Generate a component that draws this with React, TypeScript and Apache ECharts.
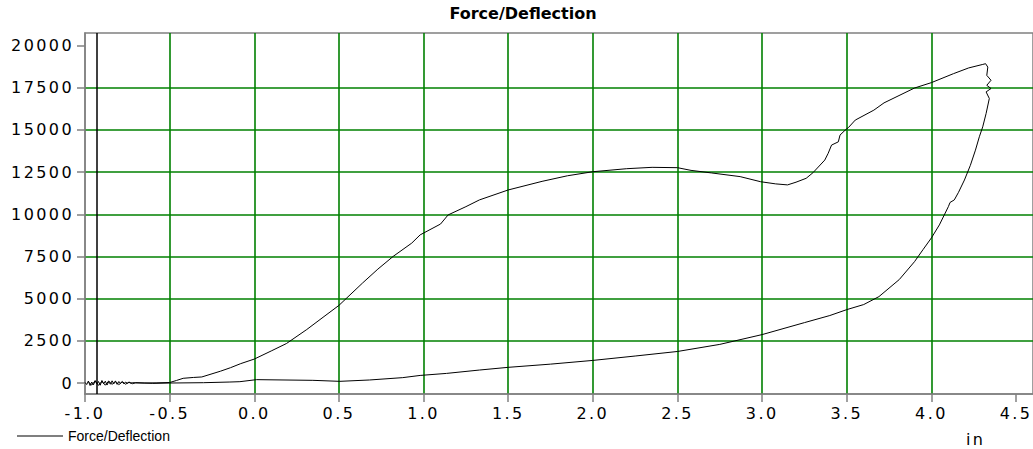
import React, { useEffect, useRef } from "react";
import * as echarts from "echarts";

const titleText = "Force/Deflection";
const seriesName = "Force/Deflection";
const xUnit = "in";
const markerX = -0.925;

const loadX = [
  -1.0, -0.99, -0.98, -0.97, -0.96, -0.95, -0.94, -0.93, -0.92, -0.91, -0.9, -0.89, -0.88, -0.87,
  -0.86, -0.85, -0.84, -0.83, -0.82, -0.81, -0.8, -0.79, -0.78, -0.77, -0.76, -0.75, -0.74, -0.73,
  -0.72, -0.7, -0.65, -0.58, -0.5, -0.46, -0.42, -0.36, -0.31, -0.2, -0.14, -0.08, 0.0, 0.1, 0.19,
  0.31, 0.4, 0.5, 0.64, 0.73, 0.82, 0.93, 0.98, 1.1, 1.145, 1.25, 1.33, 1.5, 1.7, 1.85, 2.0, 2.2,
  2.35, 2.5, 2.58, 2.7, 2.87, 2.99, 3.08, 3.15, 3.2, 3.26, 3.3, 3.37, 3.39, 3.41, 3.45, 3.46, 3.49,
  3.51, 3.55, 3.66, 3.72, 3.9, 4.0, 4.13, 4.22, 4.3, 4.32,
];
const loadY = [
  40, -90, 120, -150, 60, -110, 140, -60, 90, -130, 150, -40, 110, -120,
  80, -70, 130, -50, 100, -80, 90, -30, 70, -50, 60, -20, 40, -10,
  20, 10, 0, 10, 30, 150, 280, 330, 360, 700, 910, 1150, 1420, 1900, 2340,
  3170, 3850, 4600, 5930, 6750, 7500, 8290, 8780, 9420, 9960, 10450, 10850, 11440, 11950, 12280, 12520, 12700,
  12780, 12760, 12600, 12450, 12230, 11930, 11800, 11740, 11900, 12130, 12460, 13210, 13610, 14100, 14290, 14690, 14980,
  15140, 15580, 16170, 16600, 17480, 17800, 18330, 18670, 18870, 18920,
];

const unloadX = [
  4.333, 4.327, 4.352, 4.327, 4.352, 4.323, 4.342, 4.323, 4.303, 4.283, 4.26, 4.23, 4.195, 4.16,
  4.135, 4.11, 4.1, 4.047, 4.0, 3.95, 3.9, 3.81, 3.69, 3.6, 3.5, 3.4, 3.25, 3.0, 2.75, 2.5, 2.25,
  2.0, 1.75, 1.5, 1.33, 1.135, 0.98, 0.877, 0.68, 0.505, 0.346, 0.013, -0.085, -0.144, -0.3, -0.5,
  -0.6, -0.7, -0.72, -0.74, -0.76, -0.78, -0.8, -0.82, -0.84, -0.86, -0.88, -0.9, -0.92, -0.94,
  -0.96, -0.98,
];
const unloadY = [
  18720, 18230, 17940, 17640, 17450, 17250, 16860, 15970, 15180, 14590, 13800, 12900, 12030, 11300,
  10850, 10700, 10450, 9370, 8600, 7900, 7190, 6130, 5120, 4650, 4350, 4000, 3580, 2870, 2290, 1870, 1600,
  1340, 1120, 930, 770, 570, 450, 320, 180, 100, 160, 200, 80, 60, 20, 0,
  -20, 20, -40, 60, -70, 90, -100, 110, -80, 120, -130, 100, -140, 130,
  -120, 60,
];

const xTickValues = [-1.0, -0.5, 0.0, 0.5, 1.0, 1.5, 2.0, 2.5, 3.0, 3.5, 4.0, 4.5];
const xTickLabels = ["-1.0", "-0.5", "0.0", "0.5", "1.0", "1.5", "2.0", "2.5", "3.0", "3.5", "4.0", "4.5"];
const yTickValues = [0, 2500, 5000, 7500, 10000, 12500, 15000, 17500, 20000];
const yTickLabels = ["0", "2500", "5000", "7500", "10000", "12500", "15000", "17500", "20000"];

const labelFor = (values: number[], labels: string[]) => (v: number) => {
  const i = values.findIndex((t) => Math.abs(t - v) < 1e-6);
  return i >= 0 ? labels[i] : "";
};

export default function App() {
  const ref = useRef<HTMLDivElement>(null);
  useEffect(() => {
    if (!ref.current) return;
    const chart = echarts.init(ref.current, null, { renderer: "svg" });
    const data: number[][] = [];
    loadX.forEach((x, i) => data.push([x, loadY[i]]));
    unloadX.forEach((x, i) => data.push([x, unloadY[i]]));
    const gray = "#808080";
    const green = "#008000";
    const axisFont = { fontFamily: "DejaVu Sans", fontSize: 16, color: "#000" };
    chart.setOption({
      animation: false,
      backgroundColor: "#fff",
      title: {
        text: titleText,
        left: 523,
        textAlign: "center",
        top: 5,
        padding: 0,
        textStyle: { fontFamily: "DejaVu Sans", fontSize: 16, fontWeight: "bold", color: "#000" },
      },
      legend: {
        left: 17,
        top: 429,
        padding: 0,
        icon: "rect",
        itemWidth: 46,
        itemHeight: 1,
        data: [seriesName],
        itemStyle: { color: "#000", borderWidth: 0 },
        textStyle: { fontFamily: "Liberation Sans", fontSize: 14, color: "#000" },
      },
      grid: {
        left: 85,
        top: 33,
        right: 0,
        bottom: 55,
        show: true,
        borderColor: gray,
        borderWidth: 1.5,
        backgroundColor: "transparent",
      },
      xAxis: {
        type: "value",
        min: -1,
        max: 4.6,
        interval: 0.5,
        axisLine: { show: true, onZero: false, lineStyle: { color: gray, width: 1.5 } },
        axisTick: { show: true, length: 8, customValues: xTickValues, lineStyle: { color: gray, width: 1.5 } },
        axisLabel: {
          ...axisFont,
          margin: 11,
          customValues: xTickValues,
          formatter: labelFor(xTickValues, xTickLabels),
        },
        splitLine: { show: true, showMinLine: false, showMaxLine: false, lineStyle: { color: green, width: 1.6 } },
      },
      yAxis: {
        type: "value",
        min: -650,
        max: 20740,
        minInterval: 2500,
        maxInterval: 2500,
        axisLine: { show: true, onZero: false, lineStyle: { color: gray, width: 1.5 } },
        axisTick: { show: true, length: 8, customValues: yTickValues, lineStyle: { color: gray, width: 1.5 } },
        axisLabel: {
          ...axisFont,
          margin: 11,
          customValues: yTickValues,
          formatter: labelFor(yTickValues, yTickLabels),
        },
        splitLine: { show: true, showMinLine: false, showMaxLine: false, lineStyle: { color: green, width: 1.6 } },
      },
      graphic: [
        {
          type: "text",
          left: 966,
          top: 431,
          style: { text: xUnit, fontFamily: "DejaVu Sans", fontSize: 16, fill: "#000" },
        },
      ],
      series: [
        {
          name: seriesName,
          type: "line",
          data,
          symbol: "none",
          showSymbol: false,
          smooth: false,
          lineStyle: { color: "#000", width: 1 },
          itemStyle: { color: "#000" },
          z: 3,
          markLine: {
            silent: true,
            symbol: ["none", "none"],
            label: { show: false },
            lineStyle: { color: "#000", width: 1.5, type: "solid" },
            data: [{ xAxis: markerX }],
          },
        },
      ],
    });
    const spaced = new Set<string>([...xTickLabels, ...yTickLabels, xUnit]);
    const applySpacing = () => {
      if (!ref.current) return;
      ref.current.querySelectorAll("text").forEach((t) => {
        const s = (t.textContent || "").trim();
        if (spaced.has(s)) (t as SVGTextElement).style.letterSpacing = "2.4px";
      });
    };
    applySpacing();
    chart.on("finished", applySpacing);
    return () => {
      chart.dispose();
    };
  }, []);
  return (
    <div
      ref={ref}
      style={{ position: "fixed", left: 0, top: 0, width: 1033, height: 449, background: "#fff" }}
    />
  );
}
